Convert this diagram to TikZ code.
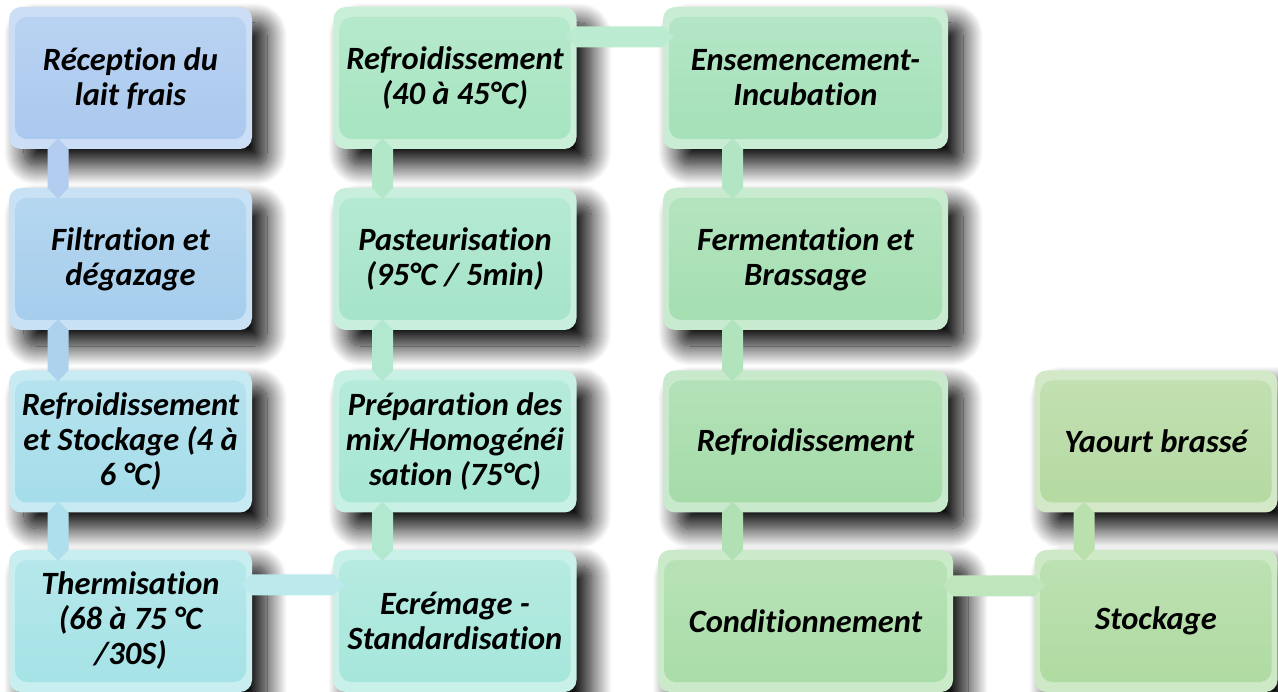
\documentclass[tikz,border=0pt]{standalone}
\usepackage{fontspec}
\setmainfont[Ligatures=NoCommon]{Carlito}
\usetikzlibrary{shadows.blur,calc}
\definecolor{cAa}{HTML}{A9C8EE}
\definecolor{cAb}{HTML}{A4CDEC}
\definecolor{cAc}{HTML}{A4DCEA}
\definecolor{cAd}{HTML}{A4E2E6}
\definecolor{cBd}{HTML}{A5E6DA}
\definecolor{cBc}{HTML}{A5E6D2}
\definecolor{cBb}{HTML}{A4E4C8}
\definecolor{cBa}{HTML}{A5E4C0}
\definecolor{cCa}{HTML}{A3E0B8}
\definecolor{cCb}{HTML}{A3DEB0}
\definecolor{cCc}{HTML}{A3DBA8}
\definecolor{cCd}{HTML}{A8DCA6}
\definecolor{cDd}{HTML}{AEDAA0}
\definecolor{cDc}{HTML}{B4D9A0}
\tikzset{
  box/.style={rounded corners=12pt, minimum height=142pt, minimum width=243pt,
    inner sep=0pt, align=center,
    font=\fontsize{32.5}{35}\selectfont\bfseries\itshape,
    fill=#1!60!white,
    blur shadow={shadow xshift=15pt, shadow yshift=-16pt, shadow blur radius=20pt,
      shadow blur steps=24, shadow opacity=100},
    path picture={\shade[top color=#1!80!white, bottom color=#1]
      ([shift={(6pt,-10pt)}]path picture bounding box.north west) rectangle
      ([shift={(-6pt,10pt)}]path picture bounding box.south east);}},
  conn/.style={fill=#1},
}
% vertical connector: #1 colour, #2 upper end, #3 lower end
\newcommand\vlink[3]{%
  \path[conn=#1] let \p1=(#2), \p2=(#3) in
    (\x1-10.5pt,\y1) -- (\x1,\y1+11pt) -- (\x1+10.5pt,\y1) --
    (\x2+10.5pt,\y2) -- (\x2,\y2-11pt) -- (\x2-10.5pt,\y2) -- cycle;}
% horizontal connector: #1 colour, #2 left end, #3 right end
\newcommand\hlink[3]{%
  \path[conn=#1] let \p1=(#2), \p2=(#3) in
    (\x1,\y1+10.5pt) -- (\x1-11pt,\y1) -- (\x1,\y1-10.5pt) --
    (\x2,\y2-10.5pt) -- (\x2+11pt,\y2) -- (\x2,\y2+10.5pt) -- cycle;}
\begin{document}
\begin{tikzpicture}[x=1pt,y=-1pt]
\useasboundingbox (0,0) rectangle (1278,692);
% column 1
\node[box=cAa] (a1) at (130.5,78) {Réception du\\lait frais};
\node[box=cAb] (a2) at (130.5,259) {Filtration et\\dégazage};
\node[box=cAc] (a3) at (130.5,441.5) {Refroidissement\\et Stockage (4 à\\6 °C)};
\node[box=cAd] (a4) at (130.5,621) {Thermisation\\(68 à 75 °C\\/30S)};
% column 2
\node[box=cBa] (b1) at (455,78) {Refroidissement\\(40 à 45°C)};
\node[box=cBb] (b2) at (455,259) {Pasteurisation\\(95°C / 5min)};
\node[box=cBc] (b3) at (455,441.5) {Préparation des\\mix/Homogénéi\\sation (75°C)};
\node[box=cBd] (b4) at (455,621) {Ecrémage -\\Standardisation};
% column 3
\node[box=cCa, minimum width=285pt] (c1) at (805.5,78) {Ensemencement-\\Incubation};
\node[box=cCb, minimum width=285pt] (c2) at (805.5,259) {Fermentation et\\Brassage};
\node[box=cCc, minimum width=285pt] (c3) at (805.5,441.5) {Refroidissement};
\node[box=cCd, minimum width=295pt] (c4) at (805.5,621) {Conditionnement};
% column 4
\node[box=cDc] (d3) at (1156,441.5) {Yaourt brassé};
\node[box=cDd] (d4) at (1156,621) {Stockage};
% connectors
\vlink{cAa!90!white}{[xshift=-72.5pt]a1.south}{[xshift=-72.5pt]a2.north}
\vlink{cAb!90!white}{[xshift=-72.5pt]a2.south}{[xshift=-72.5pt]a3.north}
\vlink{cAc!90!white}{[xshift=-72.5pt]a3.south}{[xshift=-72.5pt]a4.north}
\hlink{cAd!75!white}{[yshift=-35pt]a4.north east}{[yshift=-35pt]b4.north west}
\vlink{cBb!85!white}{[xshift=-72.5pt]b3.south}{[xshift=-72.5pt]b4.north}
\vlink{cBb!85!white}{[xshift=-72.5pt]b2.south}{[xshift=-72.5pt]b3.north}
\vlink{cBa!85!white}{[xshift=-72.5pt]b1.south}{[xshift=-72.5pt]b2.north}
\hlink{cBa!75!white}{[yshift=-30pt]b1.north east}{[yshift=-30pt]c1.north west}
\vlink{cCa!85!white}{[xshift=-73pt]c1.south}{[xshift=-73pt]c2.north}
\vlink{cCb!85!white}{[xshift=-73pt]c2.south}{[xshift=-73pt]c3.north}
\vlink{cCc!85!white}{[xshift=-73pt]c3.south}{[xshift=-73pt]c4.north}
\hlink{cCd!75!white}{[yshift=-36pt]c4.north east}{[yshift=-36pt]d4.north west}
\vlink{cDd!85!white}{[xshift=-72pt]d3.south}{[xshift=-72pt]d4.north}
\end{tikzpicture}
\end{document}
